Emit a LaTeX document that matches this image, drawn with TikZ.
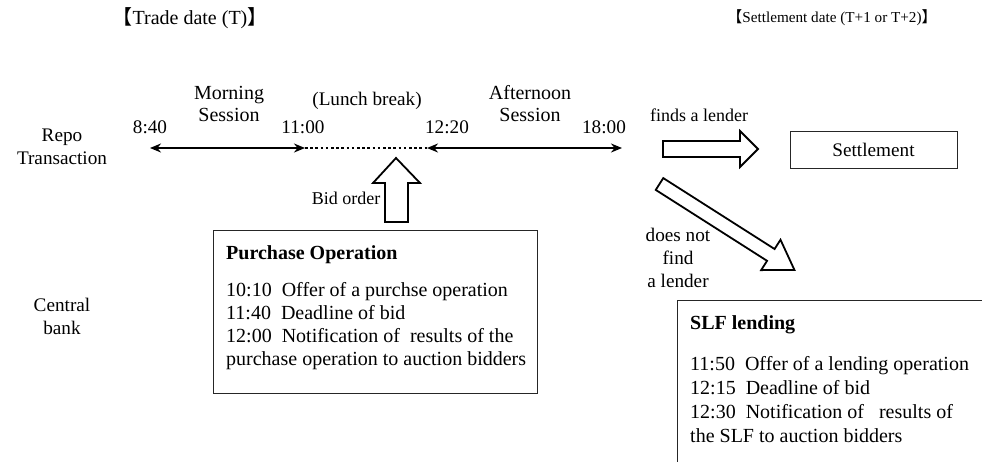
\documentclass[tikz,border=0pt]{standalone}
\usepackage{fontspec}
\setmainfont{Liberation Serif}
\newfontfamily\cjk{Noto Sans CJK JP}
\usetikzlibrary{arrows.meta}
\tikzset{
  lbl/.style={inner sep=0pt, align=center, font=\fontsize{19.2}{23}\selectfont},
  ttl/.style={inner sep=0pt, font=\fontsize{16}{18}\selectfont},
  tline/.style={line width=2.6pt, {Stealth[length=11pt,width=9pt]}-{Stealth[length=11pt,width=9pt]}},
  dotline/.style={line width=2.6pt, dash pattern=on 2.6pt off 2.6pt},
  opbox/.style={draw=black!85, line width=1pt, inner sep=0pt},
  blk/.style={draw, line width=1.8pt, fill=white, line join=miter},
  boxln/.style={inner sep=0pt, anchor=base west, font=\fontsize{20}{23}\selectfont},
}
\begin{document}
\begin{tikzpicture}[x=1pt,y=-1pt]
\clip (0,0) rectangle (982,461);
% titles
\node[ttl, font=\fontsize{20}{22}\selectfont] (tdate) at (190,18) {{\cjk 【}Trade date (T){\cjk 】}};
\node[ttl, font=\fontsize{15.2}{18}\selectfont] (sdate) at (832,18) {{\cjk 【}Settlement date (T+1 or T+2){\cjk 】}};
% row labels
\node[lbl] (repo) at (62,147) {Repo\\Transaction};
\node[lbl] (cb) at (62,316) {Central\\bank};
% time labels
\node[lbl] (l840) at (150,127) {8:40};
\node[lbl, font=\fontsize{20}{22}\selectfont] (lmorn) at (229,104) {Morning\\Session};
\node[lbl] (l1100) at (303,127) {11:00};
\node[lbl] (llunch) at (367,101) {(Lunch break)};
\node[lbl] (l1220) at (447,127) {12:20};
\node[lbl, font=\fontsize{20}{22}\selectfont] (laft) at (530,104) {Afternoon\\Session};
\node[lbl] (l1800) at (604,127) {18:00};
% timeline
\coordinate (t840) at (150,148);
\coordinate (t1100) at (305,148);
\coordinate (t1220) at (427,148);
\coordinate (t1800) at (622,148);
\draw[tline] (t840) -- (t1100);
\draw[dotline] (t1100) -- (t1220);
\draw[tline] (t1220) -- (t1800);
% finds a lender
\node[lbl, font=\fontsize{18}{23}\selectfont] (lfind) at (699,115) {finds a lender};
\draw[blk] (663,141) -- (740,141) -- (740,131) -- (758,149) -- (740,167) -- (740,157) -- (663,157) -- cycle;
\node[opbox, minimum width=167pt, minimum height=37pt] (settle) at (873.5,149.5) {};
\node[lbl] (settletxt) at (settle.center) {Settlement};
% does not find
\begin{scope}[shift={(659.5,184)}, rotate=-32.5]
\draw[blk] (0,7) -- (132,7) -- (132,18) -- (160,0) -- (132,-18) -- (132,-7) -- (0,-7) -- cycle;
\end{scope}
\node[lbl] (lnot) at (678,258) {does not\\find\\a lender};
% bid order
\node[lbl, font=\fontsize{18}{23}\selectfont] (lbid) at (346,198) {Bid order};
\draw[blk] (385,222) -- (385,183) -- (373,183) -- (396,158) -- (420,183) -- (408,183) -- (408,222) -- cycle;
% purchase operation box
\node[opbox, anchor=north west, minimum width=324pt, minimum height=163pt] (po) at (213,230) {};
\node[boxln] (potitle) at (226,259) {\textbf{Purchase Operation}};
\node[boxln] (po1) at (226,296) {10:10~ Offer of a purchse operation};
\node[boxln] (po2) at (226,319) {11:40~ Deadline of bid};
\node[boxln] (po3) at (226,342) {12:00~ Notification of~ results of the};
\node[boxln] (po4) at (226,365) {purchase operation to auction bidders};
% SLF box
\node[opbox, anchor=north west, minimum width=330pt, minimum height=180pt] (slf) at (677,300) {};
\node[boxln] (slftitle) at (690,329) {\textbf{SLF lending}};
\node[boxln] (slf1) at (690,370) {11:50~ Offer of a lending operation};
\node[boxln] (slf2) at (690,394) {12:15~ Deadline of bid};
\node[boxln] (slf3) at (690,418) {12:30~ Notification of~~ results of};
\node[boxln] (slf4) at (690,442) {the SLF to auction bidders};
\end{tikzpicture}
\end{document}
